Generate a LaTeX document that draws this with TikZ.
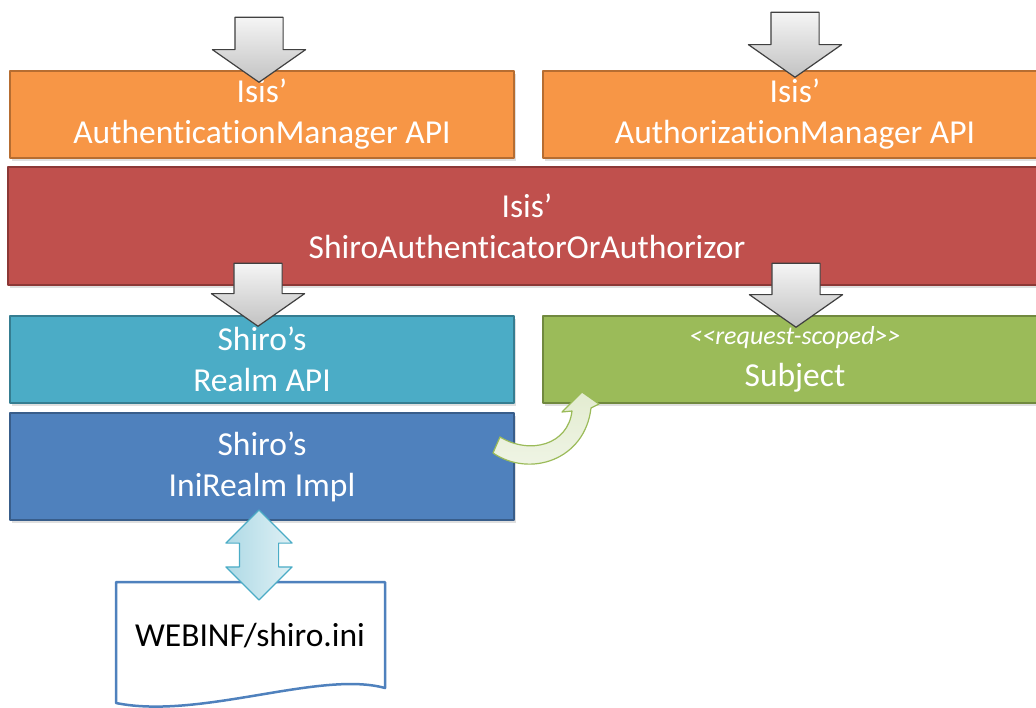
\documentclass[tikz,border=0pt]{standalone}
\usepackage{fontspec}
\setmainfont{Carlito}[Ligatures=NoCommon]
\usetikzlibrary{shapes.arrows,shadows}
\definecolor{orangefill}{HTML}{F79646}
\definecolor{orangeline}{HTML}{B66D31}
\definecolor{redfill}{HTML}{C0504D}
\definecolor{redline}{HTML}{8C3836}
\definecolor{cyanfill}{HTML}{4BACC6}
\definecolor{cyanline}{HTML}{357D91}
\definecolor{greenfill}{HTML}{9BBB59}
\definecolor{greenline}{HTML}{71893F}
\definecolor{bluefill}{HTML}{4F81BD}
\definecolor{blueline}{HTML}{385D8A}
\begin{document}
\begin{tikzpicture}[x=1pt, y=-1pt, line join=round]
            \tikzset{box/.style={draw, line width=2.5pt, text=white, align=center, inner sep=0pt,
                         minimum width=504pt, minimum height=87pt, font=\fontsize{33.5}{41}\selectfont,
                         drop shadow={shadow xshift=1.5pt, shadow yshift=-2.5pt, opacity=0.25}},
                     downarrow/.style={single arrow, rotate=-90, draw=black!75, line width=1.2pt,
                         top color=black!4, bottom color=black!24, minimum width=92pt, inner sep=0pt,
                         single arrow head extend=22.5pt, single arrow tip angle=110, anchor=tip},
                     bothways/.style={double arrow, rotate=90, draw=cyanfill, line width=1.2pt,
                         left color=cyanfill!45, right color=cyanfill!18, minimum width=65pt, minimum height=90pt,
                         inner sep=0pt, double arrow head extend=13.5pt},
                     curvearrow/.style={draw=greenfill, line width=1.2pt, top color=greenfill!28, bottom color=greenfill!14}}
            \useasboundingbox (0,0) rectangle (1036,707);
            % upper layer
            \node[box, fill=orangefill, draw=orangeline] (authn) at (262,114.5) {Isis’\\AuthenticationManager API};
            \node[box, fill=orangefill, draw=orangeline] (authz) at (795,114.5) {Isis’\\AuthorizationManager API};
            \node[box, fill=redfill, draw=redline, minimum width=1038pt, minimum height=118pt] (shiroaa) at (527,226)
                {Isis’\\ShiroAuthenticatorOrAuthorizor};
            % shiro layer
            \node[box, fill=cyanfill, draw=cyanline] (realm) at (262,359.5) {Shiro’s\\Realm API};
            \node[box, fill=greenfill, draw=greenline] (subject) at (795,359.5)
                {{\fontsize{26}{30}\selectfont\itshape <{}<request-scoped>{}>}\\[1pt]Subject};
            \node[box, fill=bluefill, draw=blueline, minimum height=107pt] (inirealm) at (262,466.5) {Shiro’s\\IniRealm Impl};
            % ini file
            \draw[draw=bluefill, line width=2.5pt, fill=white] (116,582) -- (385,582) -- (385,688)
                .. controls (320,670) and (200,720) .. (116,703) -- cycle;
            \node[font=\fontsize{33.5}{41}\selectfont] (inifile) at (250,636) {WEBINF/shiro.ini};
            % block arrows
            \node[downarrow, minimum height=65pt] (callauthn) at (259,83) {\rule{0pt}{47pt}};
            \node[downarrow, minimum height=65pt] (callauthz) at (795,78) {\rule{0pt}{47pt}};
            \node[downarrow, minimum height=63pt] (callrealm) at (258,327) {\rule{0pt}{47pt}};
            \node[downarrow, minimum height=64pt] (callsubject) at (796,328) {\rule{0pt}{47pt}};
            \node[bothways] (readini) at (259,555) {\rule{0pt}{38pt}};
            \draw[curvearrow] (493,453) .. controls (530,478) and (585,460) .. (591,408) -- (599,404) -- (582,392)
                -- (562,412) -- (572,411) .. controls (568,445) and (530,455) .. (500,437) -- cycle;
\end{tikzpicture}
\end{document}
